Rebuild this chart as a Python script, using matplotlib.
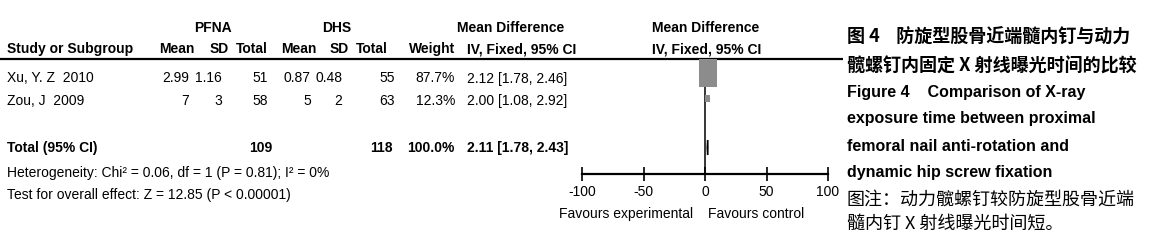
"""Forest plot: PFNA vs DHS, X-ray exposure time (RevMan style) with side caption."""

import matplotlib
matplotlib.use("Agg")
import matplotlib.pyplot as plt
from matplotlib.patches import Rectangle, Polygon

# ---------------------------------------------------------------------------
# Data
# ---------------------------------------------------------------------------
studies = ["Xu, Y. Z  2010", "Zou, J  2009"]
pfna_mean = ["2.99", "7"]
pfna_sd = ["1.16", "3"]
pfna_n = [51, 58]
dhs_mean = ["0.87", "5"]
dhs_sd = ["0.48", "2"]
dhs_n = [55, 63]
weights = [87.7, 12.3]
md = [2.12, 2.00]
ci_lo = [1.78, 1.08]
ci_hi = [2.46, 2.92]

total_pfna = 109
total_dhs = 118
total_md = 2.11
total_lo = 1.78
total_hi = 2.43

heterogeneity = "Heterogeneity: Chi² = 0.06, df = 1 (P = 0.81); I² = 0%"
overall = "Test for overall effect: Z = 12.85 (P < 0.00001)"

axis_ticks = [-100, -50, 0, 50, 100]

caption_title = ["图 4    防旋型股骨近端髓内钉与动力", "髋螺钉内固定 X 射线曝光时间的比较"]
caption_en = ["Figure 4    Comparison of X-ray", "exposure time between proximal",
              "femoral nail anti-rotation and", "dynamic hip screw fixation"]
caption_note = ["图注：动力髋螺钉较防旋型股骨近端", "髓内钉 X 射线曝光时间短。"]

# ---------------------------------------------------------------------------
# Layout (pixel coordinates on a 1154x250 canvas)
# ---------------------------------------------------------------------------
W, H = 1154, 250
NARROW = ["Liberation Sans", "DejaVu Sans"]
FS = 10
row_base = [82.5, 105]
row_mid = [73, 98.5]
total_base = 152
total_mid = 147.5

fig = plt.figure(figsize=(W / 100, H / 100), dpi=100)
tx = fig.add_axes([0, 0, 1, 1])
tx.set_xlim(0, W)
tx.set_ylim(H, 0)
tx.axis("off")


def t(x, y, s, ha="left", bold=False, size=FS, family=None):
    tx.text(x, y, s, ha=ha, va="baseline", fontsize=size,
            fontweight="bold" if bold else "normal",
            family=family or NARROW, color="black")


# header rows
t(213, 31.5, "PFNA", ha="center", bold=True)
t(337, 31.5, "DHS", ha="center", bold=True)
t(511, 31.5, "Mean Difference", ha="center", bold=True)
t(706, 31.5, "Mean Difference", ha="center", bold=True)

t(7, 53, "Study or Subgroup", bold=True)
for x, s in [(195, "Mean"), (229, "SD"), (268, "Total"),
             (316, "Mean"), (349, "SD"), (388, "Total"), (455, "Weight")]:
    t(x, 53, s, ha="right", bold=True)
t(522, 53, "IV, Fixed, 95% CI", ha="center", bold=True)
t(707, 53, "IV, Fixed, 95% CI", ha="center", bold=True)
tx.plot([0, 843], [59, 59], color="black", lw=1.6, solid_capstyle="butt")

# study rows
for i, name in enumerate(studies):
    y = row_base[i]
    t(7, y, name)
    t(189, y, pfna_mean[i], ha="right")
    t(222, y, pfna_sd[i], ha="right")
    t(268, y, str(pfna_n[i]), ha="right")
    t(311, y, dhs_mean[i], ha="right")
    t(342, y, dhs_sd[i], ha="right")
    t(395, y, str(dhs_n[i]), ha="right")
    t(455, y, f"{weights[i]:.1f}%", ha="right")
    t(567, y, f"{md[i]:.2f} [{ci_lo[i]:.2f}, {ci_hi[i]:.2f}]", ha="right")

# total row
t(7, total_base, "Total (95% CI)", bold=True)
t(272, total_base, str(total_pfna), ha="right", bold=True)
t(393, total_base, str(total_dhs), ha="right", bold=True)
t(455, total_base, f"{sum(weights):.1f}%", ha="right", bold=True)
t(568, total_base, f"{total_md:.2f} [{total_lo:.2f}, {total_hi:.2f}]", ha="right", bold=True)
t(7, 177, heterogeneity)
t(7, 199, overall)

# favours labels
t(693, 218, "Favours experimental", ha="right")
t(708, 218, "Favours control")

# ---------------------------------------------------------------------------
# Forest panel
# ---------------------------------------------------------------------------
x0, x1 = 582, 828
y_top, y_axis = 59, 174
fa = fig.add_axes([x0 / W, 1 - y_axis / H, (x1 - x0) / W, (y_axis - y_top) / H])
fa.set_xlim(axis_ticks[0], axis_ticks[-1])
fa.set_ylim(y_axis, y_top)
fa.patch.set_alpha(0)
for side in ["top", "left", "right"]:
    fa.spines[side].set_visible(False)
fa.spines["bottom"].set_linewidth(1.6)
fa.set_yticks([])
fa.set_xticks(axis_ticks)
fa.set_xticklabels([str(v) for v in axis_ticks], family=NARROW, fontsize=FS)
fa.tick_params(axis="x", direction="inout", length=10, width=1.2, pad=3)
fa.axvline(0, color="black", lw=1.1)

px_per_unit = (x1 - x0) / (axis_ticks[-1] - axis_ticks[0])
for i in range(len(studies)):
    s = weights[i] ** 0.7
    w_px, h_px = 0.786 * s, 1.18 * s
    w = w_px / px_per_unit
    fa.plot([ci_lo[i], ci_hi[i]], [row_mid[i]] * 2, color="black", lw=0.8)
    fa.add_patch(Rectangle((md[i] - w / 2, row_mid[i] - h_px / 2), w, h_px,
                           facecolor="#8c8c8c", edgecolor="none", zorder=3))

dh = 15
fa.add_patch(Polygon([(total_lo, total_mid), (total_md, total_mid - dh / 2),
                      (total_hi, total_mid), (total_md, total_mid + dh / 2)],
                     closed=True, facecolor="black", edgecolor="black", lw=1.0, zorder=3))

# ---------------------------------------------------------------------------
# Caption
# ---------------------------------------------------------------------------
CJK = ["Noto Sans CJK SC", "DejaVu Sans"]
for y, s in zip([43, 72], caption_title):
    t(847, y, s, bold=True, size=13, family=CJK)
for y, s in zip([97, 123, 151, 176.5], caption_en):
    t(847, y, s, bold=True, size=11.5, family=["Liberation Sans", "DejaVu Sans"])
for y, s in zip([204.5, 229], caption_note):
    t(847, y, s, size=13, family=CJK)

fig.savefig("out.png", dpi=100)
